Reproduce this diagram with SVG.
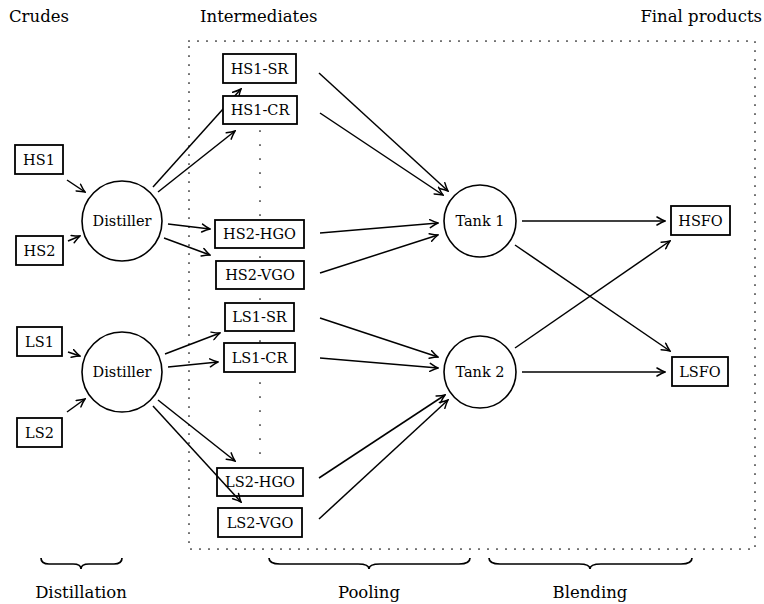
<svg xmlns="http://www.w3.org/2000/svg" width="764" height="604" viewBox="0 0 764 604">
<defs>
<marker id="arr" viewBox="-9 -5 10 10" refX="0" refY="0" markerWidth="10" markerHeight="10" orient="auto" markerUnits="userSpaceOnUse">
<path d="M-8,-4 Q-3,-1 0,0 Q-3,1 -8,4" fill="none" stroke="#000" stroke-width="1.5" stroke-linecap="round"/>
</marker>
</defs>
<style>
text{font-family:"DejaVu Serif","Liberation Serif",serif;fill:#000}
.h{font-size:16.5px}
.n{font-size:14.5px;text-anchor:middle}
.box{fill:#fff;stroke:#000;stroke-width:1.8}
.circ{fill:#fff;stroke:#000;stroke-width:1.6}
.dot{fill:none;stroke:#000;stroke-width:1.7;stroke-linecap:round}
.e line{stroke:#000;stroke-width:1.5;marker-end:url(#arr)}
.brace{fill:none;stroke:#000;stroke-width:1.7}
</style>
<rect width="764" height="604" fill="#fff"/>
<g id="labels">
<text class="h" x="9" y="22">Crudes</text>
<text class="h" x="200" y="22">Intermediates</text>
<text class="h" x="762" y="22" text-anchor="end">Final products</text>
<text class="h" x="81" y="598" text-anchor="middle">Distillation</text>
<text class="h" x="369" y="598" text-anchor="middle">Pooling</text>
<text class="h" x="590" y="598" text-anchor="middle">Blending</text>
</g>
<g id="frame">
<path class="dot" d="M189,41 H755 V549 H189 Z" stroke-dasharray="0 9"/>
<path class="dot" d="M260,131 V460" stroke-dasharray="0 14"/>
</g>
<g id="braces">
<path class="brace" d="M41,558 Q41,564 49,564 L73,564 Q81,564 81,569 Q81,564 89,564 L114,564 Q122,564 122,558"/>
<path class="brace" d="M269,558 Q269,564 280,564 L358,564 Q369,564 369,569 Q369,564 380,564 L459,564 Q470,564 470,558"/>
<path class="brace" d="M489,558 Q489,564 500,564 L579,564 Q590,564 590,569 Q590,564 601,564 L681,564 Q692,564 692,558"/>
</g>
<g id="connectors" class="e">
<line x1="67" y1="180" x2="85" y2="192"/>
<line x1="68" y1="241" x2="80" y2="236"/>
<line x1="68" y1="352" x2="80" y2="356"/>
<line x1="67" y1="412" x2="85" y2="399"/>
<line x1="153" y1="187" x2="241" y2="89"/>
<line x1="158" y1="192" x2="235" y2="131"/>
<line x1="168" y1="224" x2="210" y2="229"/>
<line x1="164" y1="238" x2="210" y2="255"/>
<line x1="165" y1="354" x2="220" y2="333"/>
<line x1="168" y1="367" x2="218" y2="362"/>
<line x1="158" y1="400" x2="235" y2="461"/>
<line x1="153" y1="406" x2="241" y2="502"/>
<line x1="319" y1="73" x2="448" y2="191"/>
<line x1="320" y1="113" x2="443" y2="195"/>
<line x1="320" y1="233" x2="438" y2="223"/>
<line x1="320" y1="273" x2="438" y2="235"/>
<line x1="320" y1="318" x2="438" y2="357"/>
<line x1="320" y1="358" x2="438" y2="368"/>
<line x1="319" y1="478" x2="445" y2="395"/>
<line x1="319" y1="519" x2="448" y2="400"/>
<line x1="522" y1="221" x2="665" y2="221"/>
<line x1="515" y1="245" x2="670" y2="351"/>
<line x1="515" y1="348" x2="670" y2="241"/>
<line x1="522" y1="372" x2="665" y2="372"/>
</g>
<g id="HS1"><rect class="box" x="15" y="145" width="48" height="29"/><text class="n" x="39" y="165">HS1</text></g>
<g id="HS2"><rect class="box" x="16" y="236" width="47" height="29"/><text class="n" x="39.5" y="256">HS2</text></g>
<g id="LS1"><rect class="box" x="17" y="327" width="45" height="29"/><text class="n" x="39.5" y="347">LS1</text></g>
<g id="LS2"><rect class="box" x="17" y="418" width="45" height="29"/><text class="n" x="39.5" y="438">LS2</text></g>
<g id="Distiller1"><circle class="circ" cx="122" cy="221" r="40"/><text class="n" x="122" y="226">Distiller</text></g>
<g id="Distiller2"><circle class="circ" cx="122" cy="372" r="40"/><text class="n" x="122" y="377">Distiller</text></g>
<g id="HS1-SR"><rect class="box" x="223" y="54" width="73" height="29"/><text class="n" x="259.5" y="74">HS1-SR</text></g>
<g id="HS1-CR"><rect class="box" x="223" y="96" width="74" height="28"/><text class="n" x="260" y="115">HS1-CR</text></g>
<g id="HS2-HGO"><rect class="box" x="215" y="220" width="89" height="28"/><text class="n" x="259.5" y="239">HS2-HGO</text></g>
<g id="HS2-VGO"><rect class="box" x="216" y="261" width="88" height="28"/><text class="n" x="260" y="280">HS2-VGO</text></g>
<g id="LS1-SR"><rect class="box" x="225" y="303" width="69" height="28"/><text class="n" x="259.5" y="322">LS1-SR</text></g>
<g id="LS1-CR"><rect class="box" x="224" y="343" width="71" height="29"/><text class="n" x="259.5" y="363">LS1-CR</text></g>
<g id="LS2-HGO"><rect class="box" x="217" y="468" width="86" height="28" fill-opacity="0"/><text class="n" x="260" y="487">LS2-HGO</text></g>
<g id="LS2-VGO"><rect class="box" x="218" y="508" width="84" height="29"/><text class="n" x="260" y="528">LS2-VGO</text></g>
<g id="Tank1"><circle class="circ" cx="480" cy="221" r="36"/><text class="n" x="480" y="226">Tank 1</text></g>
<g id="Tank2"><circle class="circ" cx="480" cy="372" r="36"/><text class="n" x="480" y="377">Tank 2</text></g>
<g id="HSFO"><rect class="box" x="671" y="206" width="59" height="29"/><text class="n" x="700.5" y="226">HSFO</text></g>
<g id="LSFO"><rect class="box" x="672" y="357" width="56" height="29"/><text class="n" x="700" y="377">LSFO</text></g>
</svg>
